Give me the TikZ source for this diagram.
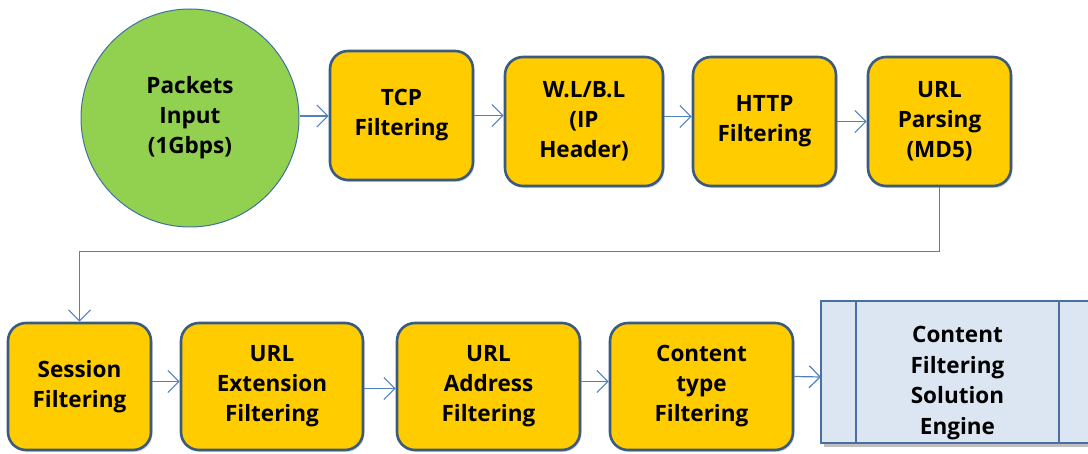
\documentclass[tikz,border=0pt]{standalone}
\usepackage{fontspec}
\setmainfont{Open Sans}
\usetikzlibrary{arrows.meta,shadows,calc}

\definecolor{boxfill}{HTML}{FFCC00}
\definecolor{boxlight}{HTML}{FFEC80}
\definecolor{boxdark}{HTML}{D9A000}
\definecolor{boxedge}{HTML}{3A5A7E}
\definecolor{circfill}{HTML}{92D050}
\definecolor{circedge}{HTML}{41719C}
\definecolor{engfill}{HTML}{DCE6F2}
\definecolor{engedge}{HTML}{4A6FA0}
\definecolor{linkcol}{HTML}{4F81BD}

% glossy yellow: light rim at top, slightly darker rim at bottom
\pgfdeclareverticalshading{gloss}{100bp}{%
  color(0bp)=(boxdark); color(8bp)=(boxfill); color(86bp)=(boxfill);
  color(94bp)=(boxlight); color(100bp)=(boxlight)}

\tikzset{
  lbl/.style={font=\bfseries\fontsize{22.5}{30}\selectfont, align=center, text=black},
  stagebox/.style={lbl, draw=boxedge, line width=2.6pt, rounded corners=18pt,
    shading=gloss, inner sep=0pt,
    drop shadow={opacity=0.3, shadow xshift=1.5pt, shadow yshift=-2pt}},
  inputcirc/.style={lbl, circle, draw=circedge, line width=1pt, fill=circfill,
    minimum size=218pt, inner sep=0pt},
  conn/.style={draw=linkcol, line width=1.2pt,
    -{Straight Barb[length=11pt,width=22pt]}},
}

\begin{document}
\begin{tikzpicture}[x=1pt,y=-1pt]
\useasboundingbox (0,0) rectangle (1088,454);

% --- first row ---
\node[inputcirc] (circ) at (190,118) {Packets\\Input\\(1Gbps)};
\node[stagebox, minimum width=143pt, minimum height=129pt] (tcp)  at (401.5,115.5) {TCP\\Filtering};
\node[stagebox, minimum width=158pt, minimum height=129pt] (wl)   at (584,121.5)   {W.L/B.L\\(IP\\Header)};
\node[stagebox, minimum width=143pt, minimum height=129pt] (http) at (764.5,121.5) {HTTP\\Filtering};
\node[stagebox, minimum width=143pt, minimum height=129pt] (urlp) at (939.5,121.5) {URL\\Parsing\\(MD5)};

% --- second row ---
\node[stagebox, minimum width=143pt, minimum height=127pt] (sess)  at (79.5,386.5)  {Session\\Filtering};
\node[stagebox, minimum width=182pt, minimum height=127pt] (ext)   at (272,386.5)   {URL\\Extension\\Filtering};
\node[stagebox, minimum width=183pt, minimum height=127pt] (addr)  at (488.5,386.5) {URL\\Address\\Filtering};
\node[stagebox, minimum width=183pt, minimum height=127pt] (ctype) at (701.5,386.5) {Content\\type\\Filtering};

% --- engine (predefined process box, running off the right edge) ---
\fill[black, opacity=0.25] (824,304) rectangle (1100,447);
\path[fill=engfill, draw=engedge, line width=1.8pt] (821,301) rectangle (1100,443);
\draw[engedge, line width=1.8pt] (856,301) -- (856,443);
\draw[engedge, line width=1.8pt] (1059,301) -- (1059,443);
\node[lbl, font=\bfseries\fontsize{22.5}{30.5}\selectfont] (eng) at (957.5,383) {Content\\Filtering\\Solution\\Engine};
\coordinate (engin) at (821,377);

% --- connectors ---
\draw[conn] ([yshift=2pt]circ.east) -- ([yshift=2pt]circ.east -| tcp.west);
\draw[conn] (tcp.east) -- (tcp.east -| wl.west);
\draw[conn] ([yshift=5pt]wl.east) -- ([yshift=5pt]wl.east -| http.west);
\draw[conn] (http.east) -- (urlp.west);
\draw[conn] (urlp.south) -- ++(0,64) -| (sess.north);
\draw[conn] ([yshift=5pt]sess.east) -- ([yshift=5pt]sess.east -| ext.west);
\draw[conn] ([yshift=-2pt]ext.east) -- ([yshift=-2pt]ext.east -| addr.west);
\draw[conn] ([yshift=5pt]addr.east) -- ([yshift=5pt]addr.east -| ctype.west);
\draw[conn] ([yshift=10pt]ctype.east) -- (engin);
\end{tikzpicture}
\end{document}
